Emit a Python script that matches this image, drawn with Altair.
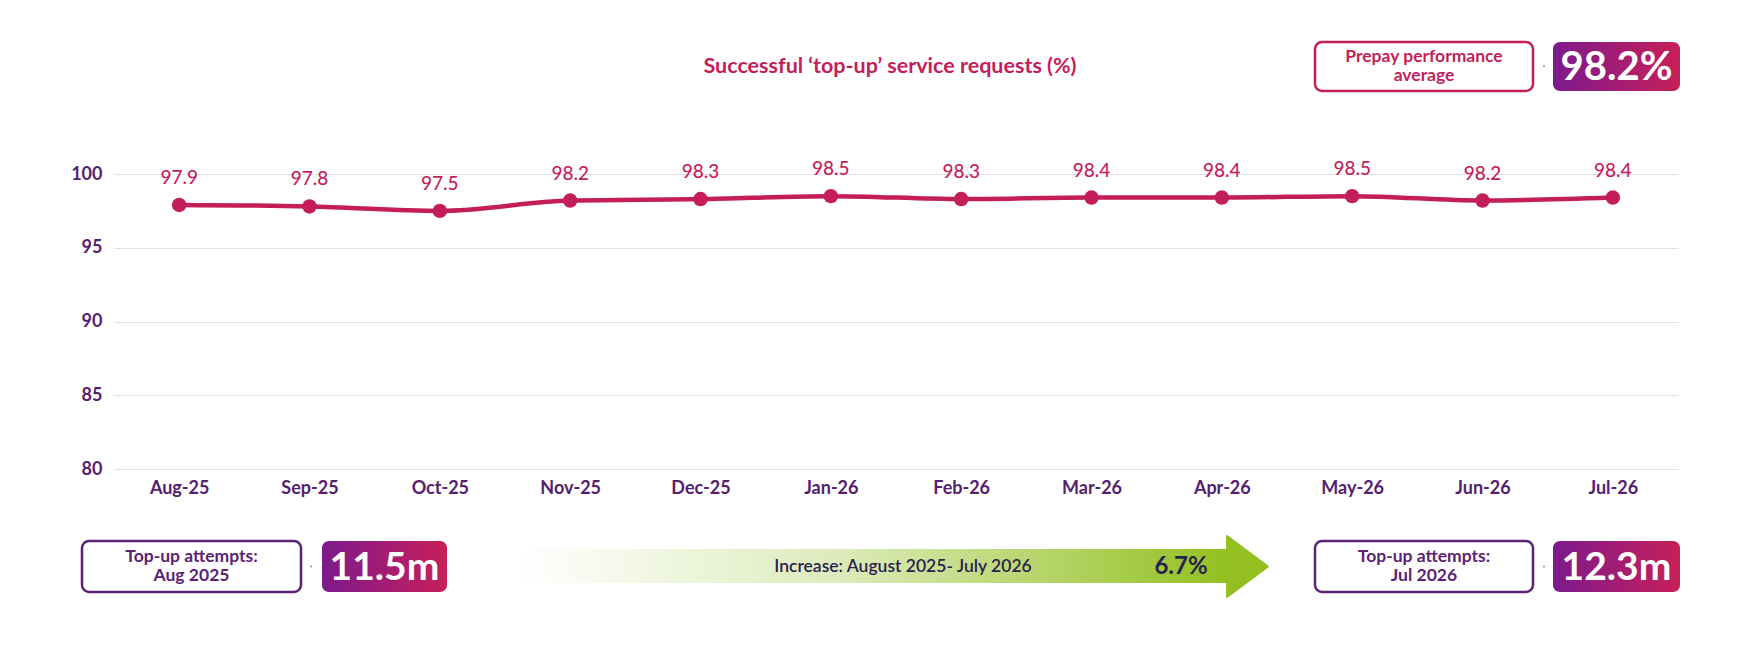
import altair as alt
import pandas as pd

# ---------------- data ----------------
months = ["Aug-25", "Sep-25", "Oct-25", "Nov-25", "Dec-25", "Jan-26",
          "Feb-26", "Mar-26", "Apr-26", "May-26", "Jun-26", "Jul-26"]
success_pct = [97.9, 97.8, 97.5, 98.2, 98.3, 98.5, 98.3, 98.4, 98.4, 98.5, 98.2, 98.4]
y_ticks = [80, 85, 90, 95, 100]

title_text = "Successful \u2018top-up\u2019 service requests (%)"
avg_label = ["Prepay performance", "average"]
avg_value = ["98.2%"]
start_label = ["Top-up attempts:", "Aug 2025"]
start_value = ["11.5m"]
end_label = ["Top-up attempts:", "Jul 2026"]
end_value = ["12.3m"]
increase_label = ["Increase: August 2025- July 2026"]
increase_value = ["6.7%"]

# ---------------- styles ----------------
FONT = "Lato"
CRIMSON = "#C41E5A"
PURPLE = "#5B2375"
AXIS_PURPLE = "#55216E"
GRID = "#E4DEEC"
NAVY = "#2A2150"

df = pd.DataFrame({"month": months, "value": success_pct})

x_enc = alt.X("month:N", sort=months,
              scale=alt.Scale(type="point", padding=0.5),
              axis=alt.Axis(title=None, labelAngle=0, domain=False, ticks=False, grid=False,
                            labelFont=FONT, labelFontSize=18, labelFontWeight="bold",
                            labelColor=AXIS_PURPLE, labelPadding=10))
y_enc = alt.Y("value:Q", scale=alt.Scale(domain=[80, 100], nice=False, zero=False),
              axis=alt.Axis(title=None, values=y_ticks, domain=False, ticks=False,
                            gridColor=GRID, gridWidth=1.2,
                            labelFont=FONT, labelFontSize=18, labelFontWeight="bold",
                            labelColor=AXIS_PURPLE, labelPadding=12))

base = alt.Chart(df).encode(x=x_enc, y=y_enc)
line = base.mark_line(color=CRIMSON, strokeWidth=4.5, interpolate="monotone")
points = base.mark_circle(color=CRIMSON, size=210, opacity=1)
labels = base.mark_text(color=CRIMSON, font=FONT, fontSize=19, fontWeight=500,
                        baseline="alphabetic", dy=-21).encode(
    text=alt.Text("value:Q", format=".1f"))


def one(text):
    return pd.DataFrame({"t": [text]})


def box(x0, x1, y0, y1, stroke):
    return alt.Chart(one("")).mark_rect(fill="white", stroke=stroke, strokeWidth=2.5,
                                        cornerRadius=7).encode(
        x=alt.value(x0), x2=alt.value(x1), y=alt.value(y0), y2=alt.value(y1))


grad_box_fill = alt.Gradient(gradient="linear",
                             stops=[alt.GradientStop(color="#7D1A8C", offset=0),
                                    alt.GradientStop(color="#C81F59", offset=1)],
                             x1=0, x2=1, y1=0, y2=0)


def gbox(x0, x1, y0, y1):
    return alt.Chart(one("")).mark_rect(fill=grad_box_fill, cornerRadius=7).encode(
        x=alt.value(x0), x2=alt.value(x1), y=alt.value(y0), y2=alt.value(y1))


def label(lines, x, y, color, size, weight="bold", lh=19):
    # y is the vertical centre of the whole text block
    first = y - (len(lines) - 1) * lh / 2
    return alt.Chart(one("")).mark_text(text=lines, font=FONT, fontSize=size, fontWeight=weight,
                                        color=color, align="center", baseline="middle",
                                        lineHeight=lh).encode(
        x=alt.value(x), y=alt.value(first))


def dot(x, y):
    return alt.Chart(one("")).mark_circle(color="#9A9A9A", size=5, opacity=1).encode(
        x=alt.value(x), y=alt.value(y))


title = label([title_text], 776, -107, CRIMSON, 21.5)

# top-right: average
avg_box = box(1201, 1419, -132, -83, CRIMSON)
avg_txt = label(avg_label, 1310, -108, CRIMSON, 17.5)
avg_dot = dot(1430, -108)
avg_vbox = gbox(1439, 1566, -132, -83)
avg_vtxt = label(avg_value, 1502.5, -106, "white", 40)

# bottom-left
s_box = box(-32, 187, 367, 418, PURPLE)
s_txt = label(start_label, 77.5, 392.5, PURPLE, 17.5)
s_dot = dot(197, 392.5)
s_vbox = gbox(208, 333, 367, 418)
s_vtxt = label(start_value, 270.5, 394, "white", 39)

# bottom-right
e_box = box(1201, 1419, 367, 418, PURPLE)
e_txt = label(end_label, 1310, 392.5, PURPLE, 17.5)
e_dot = dot(1430, 392.5)
e_vbox = gbox(1439, 1566, 367, 418)
e_vtxt = label(end_value, 1502.5, 394, "white", 39)

# arrow
arrow_fill = alt.Gradient(gradient="linear",
                          stops=[alt.GradientStop(color="#FFFFFF", offset=0),
                                 alt.GradientStop(color="#DDEBBB", offset=0.45),
                                 alt.GradientStop(color="#93C020", offset=1)],
                          x1=0, x2=1, y1=0, y2=0)
arrow_body = alt.Chart(one("")).mark_rect(fill=arrow_fill).encode(
    x=alt.value(405), x2=alt.value(1114), y=alt.value(375), y2=alt.value(409))
arrow_head = alt.Chart(one("")).mark_point(
    shape="M-0.67,-1L0.67,0L-0.67,1Z", size=3721, filled=True, fill="#93C020",
    stroke="#93C020", strokeWidth=2, strokeJoin="round", opacity=1).encode(
    x=alt.value(1133.5), y=alt.value(392.5))
inc_txt = label(increase_label, 789, 393, NAVY, 17.5, weight=600)
inc_val = label(increase_value, 1067, 393, NAVY, 24)

chart = alt.layer(
    line, points, labels, title,
    avg_box, avg_txt, avg_dot, avg_vbox, avg_vtxt,
    s_box, s_txt, s_dot, s_vbox, s_vtxt,
    e_box, e_txt, e_dot, e_vbox, e_vtxt,
    arrow_body, arrow_head, inc_txt, inc_val,
).properties(
    width=1564, height=295,
    background="white",
    padding={"left": 106, "top": 166, "right": 60, "bottom": 150},
    autosize=alt.AutoSizeParams(type="none"),
).configure_view(strokeWidth=0)

chart.save("out.html", embed_options={"renderer": "svg", "actions": False})
